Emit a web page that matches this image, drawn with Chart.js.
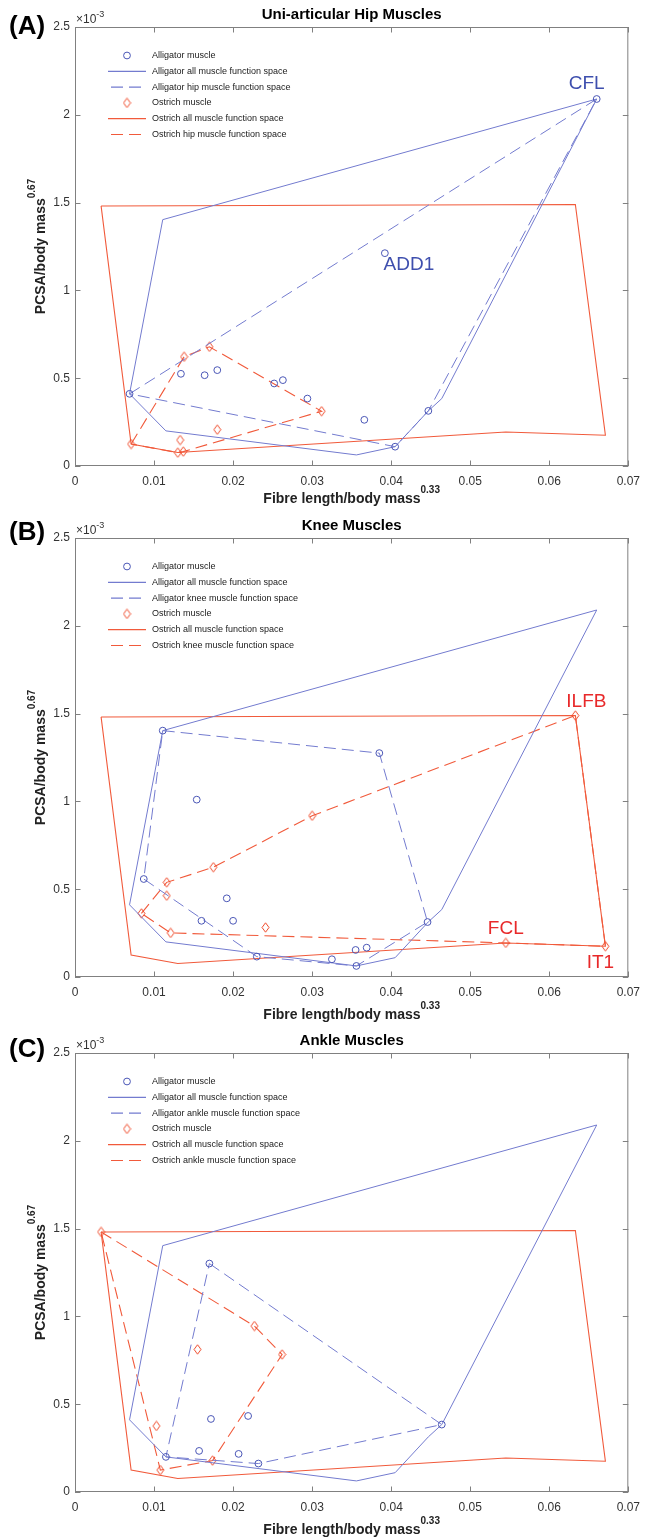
<!DOCTYPE html>
<html>
<head>
<meta charset="utf-8">
<script src="https://cdn.jsdelivr.net/npm/chart.js@4.4.1/dist/chart.umd.min.js"></script>
<style>
  html, body { margin: 0; padding: 0; background: #fff; }
  body { width: 648px; height: 1538px; position: relative; overflow: hidden; }
  .panel { position: absolute; left: 0; width: 648px; height: 512px; }
  .panel canvas { display: block; }
</style>
</head>
<body>
<div class="panel" style="top:0px"><canvas id="hip" width="648" height="512"></canvas></div>
<div class="panel" style="top:511px"><canvas id="knee" width="648" height="512"></canvas></div>
<div class="panel" style="top:1026px"><canvas id="ankle" width="648" height="512"></canvas></div>
<script>
// Axis ticks (x: fibre length / body mass^0.33, y: PCSA / body mass^0.67 in units of 1e-3)
const xTicks = [0, 0.01, 0.02, 0.03, 0.04, 0.05, 0.06, 0.07];
const yTicks = [0, 0.5, 1, 1.5, 2, 2.5];

// Function space of all alligator muscles (outline, closed)
const alligatorAllX = [0.0069, 0.0111, 0.0660, 0.0464, 0.0447, 0.0405, 0.0356, 0.0115, 0.0069];
const alligatorAllY = [0.411, 1.403, 2.090, 0.384, 0.314, 0.110, 0.063, 0.200, 0.411];
// Function space of all ostrich muscles (outline, closed)
const ostrichAllX = [0.0033, 0.0633, 0.0671, 0.0545, 0.0130, 0.0071, 0.0033];
const ostrichAllY = [1.481, 1.489, 0.175, 0.194, 0.077, 0.125, 1.481];

// (A) uni-articular hip muscles
const hipAlligatorX = [0.0069, 0.0134, 0.0164, 0.0180, 0.0252, 0.0263, 0.0294, 0.0366, 0.0405, 0.0447, 0.0392, 0.0660];
const hipAlligatorY = [0.411, 0.525, 0.517, 0.546, 0.470, 0.489, 0.384, 0.263, 0.110, 0.314, 1.212, 2.090];
const hipOstrichX = [0.0071, 0.0138, 0.0170, 0.0133, 0.0130, 0.0137, 0.0180, 0.0312];
const hipOstrichY = [0.125, 0.622, 0.679, 0.148, 0.076, 0.082, 0.207, 0.312];
const hipAlligatorSpaceX = [0.0069, 0.0660, 0.0447, 0.0405, 0.0069];
const hipAlligatorSpaceY = [0.411, 2.090, 0.314, 0.110, 0.411];
const hipOstrichSpaceX = [0.0071, 0.0138, 0.0170, 0.0312, 0.0137, 0.0130, 0.0071];
const hipOstrichSpaceY = [0.125, 0.622, 0.679, 0.312, 0.082, 0.076, 0.125];

// (B) knee muscles
const kneeAlligatorX = [0.0111, 0.0385, 0.0154, 0.0087, 0.0192, 0.0160, 0.0200, 0.0230, 0.0325, 0.0355, 0.0369, 0.0356, 0.0446];
const kneeAlligatorY = [1.403, 1.275, 1.010, 0.558, 0.448, 0.320, 0.320, 0.116, 0.101, 0.154, 0.167, 0.063, 0.313];
const kneeOstrichX = [0.0084, 0.0116, 0.0116, 0.0121, 0.0175, 0.0300, 0.0241, 0.0545, 0.0671, 0.0633];
const kneeOstrichY = [0.362, 0.539, 0.463, 0.251, 0.625, 0.918, 0.282, 0.194, 0.175, 1.489];
const kneeAlligatorSpaceX = [0.0111, 0.0385, 0.0446, 0.0356, 0.0230, 0.0087, 0.0111];
const kneeAlligatorSpaceY = [1.403, 1.275, 0.313, 0.063, 0.116, 0.558, 1.403];
const kneeOstrichSpaceX = [0.0084, 0.0116, 0.0175, 0.0300, 0.0633, 0.0671, 0.0545, 0.0121, 0.0084];
const kneeOstrichSpaceY = [0.362, 0.539, 0.625, 0.918, 1.489, 0.175, 0.194, 0.251, 0.362];

// (C) ankle muscles
const ankleAlligatorX = [0.0170, 0.0115, 0.0157, 0.0172, 0.0219, 0.0207, 0.0232, 0.0464];
const ankleAlligatorY = [1.301, 0.200, 0.234, 0.416, 0.433, 0.217, 0.162, 0.384];
const ankleOstrichX = [0.0033, 0.0103, 0.0108, 0.0155, 0.0174, 0.0227, 0.0262];
const ankleOstrichY = [1.481, 0.376, 0.125, 0.812, 0.179, 0.945, 0.783];
const ankleAlligatorSpaceX = [0.0170, 0.0464, 0.0232, 0.0115, 0.0170];
const ankleAlligatorSpaceY = [1.301, 0.384, 0.162, 0.200, 1.301];
const ankleOstrichSpaceX = [0.0033, 0.0227, 0.0262, 0.0174, 0.0108, 0.0033];
const ankleOstrichSpaceY = [1.481, 0.945, 0.783, 0.179, 0.125, 1.481];

// Named muscles (series, index into that series, name)
const hipNames = [
  { series: 'alligator', index: 11, text: 'CFL', dx: -10, dy: -15 },
  { series: 'alligator', index: 10, text: 'ADD1', dx: 24, dy: 12 }
];
const kneeNames = [
  { series: 'ostrich', index: 9, text: 'ILFB', dx: 11, dy: -14 },
  { series: 'ostrich', index: 7, text: 'FCL', dx: 0, dy: -14 },
  { series: 'ostrich', index: 8, text: 'IT1', dx: -5, dy: 16 }
];
const ankleNames = [];

const FONT = '"Liberation Sans", Arial, Helvetica, sans-serif';
const BLUE_MARK = '#4a56b6';
const BLUE_LINE = '#737bcf';
const BLUE_TEXT = '#3e4fae';
const RED_MARK = '#ef4a2a';
const RED_LINE = '#f15a3b';
const RED_TEXT = '#e8292a';
const DASH = [12, 6];

const zip = (xs, ys) => xs.map((x, i) => ({ x: x, y: ys[i] }));
const fmt = v => String(parseFloat(Number(v).toFixed(4)));

// Diamond marker drawn once on a small canvas
function makeDiamond() {
  const c = document.createElement('canvas');
  c.width = 9; c.height = 11;
  const g = c.getContext('2d');
  g.strokeStyle = RED_MARK;
  g.lineWidth = 1;
  g.beginPath();
  g.moveTo(4.5, 0.8); g.lineTo(8, 5.5); g.lineTo(4.5, 10.2); g.lineTo(1, 5.5); g.closePath();
  g.stroke();
  return c;
}
const diamond = makeDiamond();

function drawSup(ctx, main, sup, cx, cy, mainSize, supSize, rise) {
  ctx.font = 'bold ' + mainSize + 'px ' + FONT;
  const w1 = ctx.measureText(main).width;
  ctx.font = 'bold ' + supSize + 'px ' + FONT;
  const w2 = ctx.measureText(sup).width;
  const x0 = cx - (w1 + w2) / 2;
  ctx.textAlign = 'left';
  ctx.textBaseline = 'middle';
  ctx.font = 'bold ' + mainSize + 'px ' + FONT;
  ctx.fillText(main, x0, cy);
  ctx.font = 'bold ' + supSize + 'px ' + FONT;
  ctx.fillText(sup, x0 + w1, cy - rise);
}

// Box axes with inward ticks, titles, legend and muscle names
const decorations = {
  id: 'decorations',
  afterDraw(chart, args, opts) {
    const ctx = chart.ctx;
    const a = chart.chartArea;
    const xs = chart.scales.x, ys = chart.scales.y;
    ctx.save();

    // axes box
    ctx.strokeStyle = '#808080';
    ctx.lineWidth = 1;
    ctx.strokeRect(a.left + 0.5, a.top + 0.5, a.right - a.left - 1, a.bottom - a.top - 1);
    ctx.beginPath();
    xTicks.forEach(v => {
      const px = Math.round(xs.getPixelForValue(v)) + 0.5;
      ctx.moveTo(px, a.bottom); ctx.lineTo(px, a.bottom - 5.5);
      ctx.moveTo(px, a.top); ctx.lineTo(px, a.top + 5.5);
    });
    yTicks.forEach(v => {
      const py = Math.round(ys.getPixelForValue(v)) + 0.5;
      ctx.moveTo(a.left, py); ctx.lineTo(a.left + 5.5, py);
      ctx.moveTo(a.right, py); ctx.lineTo(a.right - 5.5, py);
    });
    ctx.stroke();

    // exponent marker
    ctx.fillStyle = '#333';
    ctx.textAlign = 'left';
    ctx.textBaseline = 'middle';
    ctx.font = '12px ' + FONT;
    ctx.fillText('\u00d710', a.left + 1, a.top - 7);
    const wx = ctx.measureText('\u00d710').width;
    ctx.font = '9px ' + FONT;
    ctx.fillText('-3', a.left + 1 + wx, a.top - 12);

    // panel letter and title
    ctx.fillStyle = '#000';
    ctx.textAlign = 'left';
    ctx.textBaseline = 'alphabetic';
    ctx.font = 'bold 26px ' + FONT;
    ctx.fillText(opts.letter, 9, a.top + opts.letterDy);
    ctx.textAlign = 'center';
    ctx.textBaseline = 'middle';
    ctx.font = 'bold 15px ' + FONT;
    ctx.fillText(opts.title, (a.left + a.right) / 2, a.top - 12.5);

    // axis titles
    ctx.fillStyle = '#222';
    drawSup(ctx, 'Fibre length/body mass', '0.33', (a.left + a.right) / 2, a.bottom + opts.xTitleDy, 14, 10, 9);
    ctx.save();
    ctx.translate(41, (a.top + a.bottom) / 2);
    ctx.rotate(-Math.PI / 2);
    drawSup(ctx, 'PCSA/body mass', '0.67', 0, 0, 14, 10, 9);
    ctx.restore();

    // legend
    ctx.font = '9px ' + FONT;
    ctx.textAlign = 'left';
    ctx.textBaseline = 'middle';
    chart.data.datasets.forEach((ds, i) => {
      const y = a.top + 28.5 + i * 15.8;
      if (ds.showLine) {
        ctx.save();
        ctx.strokeStyle = ds.borderColor;
        ctx.lineWidth = 1.2;
        ctx.setLineDash(ds.borderDash || []);
        ctx.beginPath();
        if (ds.borderDash) {
          ctx.moveTo(a.left + 36, y); ctx.lineTo(a.left + 71, y);
        } else {
          ctx.moveTo(a.left + 33, y); ctx.lineTo(a.left + 71, y);
        }
        ctx.stroke();
        ctx.restore();
      } else if (ds.pointStyle === 'circle') {
        ctx.strokeStyle = ds.borderColor;
        ctx.lineWidth = 1;
        ctx.beginPath();
        ctx.arc(a.left + 52, y, 3.4, 0, Math.PI * 2);
        ctx.stroke();
      } else {
        ctx.drawImage(diamond, a.left + 52 - diamond.width / 2, y - diamond.height / 2);
      }
      ctx.fillStyle = '#1a1a1a';
      ctx.fillText(ds.label, a.left + 77, y);
    });

    // muscle names
    ctx.font = '19px ' + FONT;
    ctx.textAlign = 'center';
    ctx.textBaseline = 'middle';
    opts.names.forEach(n => {
      const dsIndex = n.series === 'alligator' ? 0 : 3;
      const p = chart.data.datasets[dsIndex].data[n.index];
      ctx.fillStyle = n.series === 'alligator' ? BLUE_TEXT : RED_TEXT;
      ctx.fillText(n.text, xs.getPixelForValue(p.x) + n.dx, ys.getPixelForValue(p.y) + n.dy);
    });
    ctx.restore();
  }
};

function makePanel(id, cfg) {
  const datasets = [
    { label: 'Alligator muscle', data: zip(cfg.ax, cfg.ay), showLine: false,
      pointStyle: 'circle', pointRadius: 3.4, borderWidth: 1,
      borderColor: BLUE_MARK, backgroundColor: 'rgba(0,0,0,0)' },
    { label: 'Alligator all muscle function space', data: zip(alligatorAllX, alligatorAllY), showLine: true,
      pointRadius: 0, borderWidth: 1, borderColor: BLUE_LINE, backgroundColor: BLUE_LINE, fill: false, tension: 0 },
    { label: 'Alligator ' + cfg.group + ' muscle function space', data: zip(cfg.asx, cfg.asy), showLine: true,
      pointRadius: 0, borderWidth: 1, borderDash: DASH, borderColor: BLUE_LINE, backgroundColor: BLUE_LINE, fill: false, tension: 0 },
    { label: 'Ostrich muscle', data: zip(cfg.ox, cfg.oy), showLine: false,
      pointStyle: diamond, pointRadius: 4, borderWidth: 1,
      borderColor: RED_MARK, backgroundColor: 'rgba(0,0,0,0)' },
    { label: 'Ostrich all muscle function space', data: zip(ostrichAllX, ostrichAllY), showLine: true,
      pointRadius: 0, borderWidth: 1.1, borderColor: RED_LINE, backgroundColor: RED_LINE, fill: false, tension: 0 },
    { label: 'Ostrich ' + cfg.group + ' muscle function space', data: zip(cfg.osx, cfg.osy), showLine: true,
      pointRadius: 0, borderWidth: 1.1, borderDash: DASH, borderColor: RED_LINE, backgroundColor: RED_LINE, fill: false, tension: 0 }
  ];

  return new Chart(document.getElementById(id), {
    type: 'scatter',
    data: { datasets: datasets },
    options: {
      responsive: false,
      animation: false,
      devicePixelRatio: 1,
      events: [],
      layout: { padding: { left: 0, right: 14, top: 27, bottom: 6 }, autoPadding: false },
      scales: {
        x: {
          type: 'linear', min: xTicks[0], max: xTicks[xTicks.length - 1],
          afterBuildTicks: s => { s.ticks = xTicks.map(v => ({ value: v })); },
          afterFit: s => { s.height = 40; },
          ticks: { callback: fmt, color: '#333', font: { size: 12, family: FONT }, padding: 8, maxRotation: 0, autoSkip: false },
          grid: { display: false, drawTicks: false, tickLength: 0 }, border: { display: false }
        },
        y: {
          type: 'linear', min: yTicks[0], max: yTicks[yTicks.length - 1],
          afterBuildTicks: s => { s.ticks = yTicks.map(v => ({ value: v })); },
          afterFit: s => { s.width = 75; },
          ticks: { callback: fmt, color: '#333', font: { size: 12, family: FONT }, padding: 5, autoSkip: false },
          grid: { display: false, drawTicks: false, tickLength: 0 }, border: { display: false }
        }
      },
      plugins: {
        legend: { display: false },
        tooltip: { enabled: false },
        decorations: {
          letter: cfg.letter, letterDy: cfg.letterDy, title: cfg.title,
          xTitleDy: cfg.xTitleDy, names: cfg.names
        }
      }
    },
    plugins: [decorations]
  });
}

makePanel('hip', {
  letter: '(A)', letterDy: 6.5, title: 'Uni-articular Hip Muscles', group: 'hip', xTitleDy: 33.5, names: hipNames,
  ax: hipAlligatorX, ay: hipAlligatorY, ox: hipOstrichX, oy: hipOstrichY,
  asx: hipAlligatorSpaceX, asy: hipAlligatorSpaceY, osx: hipOstrichSpaceX, osy: hipOstrichSpaceY
});
makePanel('knee', {
  letter: '(B)', letterDy: 1.5, title: 'Knee Muscles', group: 'knee', xTitleDy: 38.5, names: kneeNames,
  ax: kneeAlligatorX, ay: kneeAlligatorY, ox: kneeOstrichX, oy: kneeOstrichY,
  asx: kneeAlligatorSpaceX, asy: kneeAlligatorSpaceY, osx: kneeOstrichSpaceX, osy: kneeOstrichSpaceY
});
makePanel('ankle', {
  letter: '(C)', letterDy: 3.5, title: 'Ankle Muscles', group: 'ankle', xTitleDy: 38, names: ankleNames,
  ax: ankleAlligatorX, ay: ankleAlligatorY, ox: ankleOstrichX, oy: ankleOstrichY,
  asx: ankleAlligatorSpaceX, asy: ankleAlligatorSpaceY, osx: ankleOstrichSpaceX, osy: ankleOstrichSpaceY
});
</script>
</body>
</html>
